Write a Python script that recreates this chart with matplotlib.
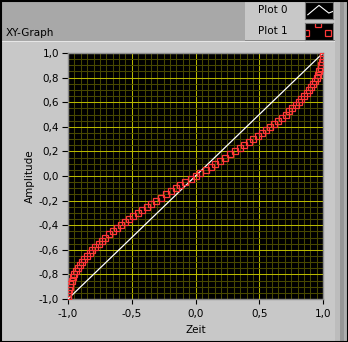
import numpy as np
import matplotlib.pyplot as plt
from matplotlib.patches import Rectangle
from matplotlib.ticker import MultipleLocator

# ---- data ----
zeit_plot0 = [-1.0, 1.0]
amp_plot0 = [-1.0, 1.0]

zeit_plot1 = [-1.000, -0.999, -0.997, -0.993, -0.988, -0.981, -0.972, -0.962, -0.951, -0.938,
              -0.924, -0.908, -0.891, -0.873, -0.853, -0.831, -0.809, -0.785, -0.760, -0.734,
              -0.707, -0.679, -0.649, -0.619, -0.588, -0.556, -0.522, -0.489, -0.454, -0.419,
              -0.383, -0.346, -0.309, -0.271, -0.233, -0.195, -0.156, -0.118, -0.079, -0.039,
              0.000,
              0.039, 0.079, 0.118, 0.156, 0.195, 0.233, 0.271, 0.309, 0.346, 0.383,
              0.419, 0.454, 0.489, 0.522, 0.556, 0.588, 0.619, 0.649, 0.679, 0.707,
              0.734, 0.760, 0.785, 0.809, 0.831, 0.853, 0.873, 0.891, 0.908, 0.924,
              0.938, 0.951, 0.962, 0.972, 0.981, 0.988, 0.993, 0.997, 0.999, 1.000]
amp_plot1 = [-1.000, -0.975, -0.950, -0.925, -0.900, -0.875, -0.850, -0.825, -0.800, -0.775,
             -0.750, -0.725, -0.700, -0.675, -0.650, -0.625, -0.600, -0.575, -0.550, -0.525,
             -0.500, -0.475, -0.450, -0.425, -0.400, -0.375, -0.350, -0.325, -0.300, -0.275,
             -0.250, -0.225, -0.200, -0.175, -0.150, -0.125, -0.100, -0.075, -0.050, -0.025,
             0.000,
             0.025, 0.050, 0.075, 0.100, 0.125, 0.150, 0.175, 0.200, 0.225, 0.250,
             0.275, 0.300, 0.325, 0.350, 0.375, 0.400, 0.425, 0.450, 0.475, 0.500,
             0.525, 0.550, 0.575, 0.600, 0.625, 0.650, 0.675, 0.700, 0.725, 0.750,
             0.775, 0.800, 0.825, 0.850, 0.875, 0.900, 0.925, 0.950, 0.975, 1.000]

x_ticks = [-1.0, -0.5, 0.0, 0.5, 1.0]
x_ticklabels = ['-1,0', '-0,5', '0,0', '0,5', '1,0']
y_ticks = [-1.0, -0.8, -0.6, -0.4, -0.2, 0.0, 0.2, 0.4, 0.6, 0.8, 1.0]
y_ticklabels = ['-1,0', '-0,8', '-0,6', '-0,4', '-0,2', '0,0', '0,2', '0,4', '0,6', '0,8', '1,0']

# legend samples
leg0_x = [0.1, 0.5, 0.85, 1.0]
leg0_y = [0.25, 0.8, 0.35, 0.45]
leg1_x = [0.05, 0.45, 0.82]
leg1_y = [0.4, 0.95, 0.4]

W, H = 348, 342
fs = 7.5
panel = '#C8C8C8'
red = '#FF3838'

fig = plt.figure(figsize=(W/100, H/100), dpi=100)
fig.patch.set_facecolor(panel)

def box(x, y, w, h, z=-5, **kw):
    fig.patches.append(Rectangle((x/W, 1-(y+h)/H), w/W, h/H,
                                 transform=fig.transFigure, zorder=z, **kw))

def px_axes(x, y, w, h):
    return fig.add_axes([x/W, 1-(y+h)/H, w/W, h/H])

# frame decoration
box(0, 0, 245, 41, color='#A8A8A8', lw=0)
box(245, 0, 90, 41, color=panel, lw=0)
box(245, 40, 90, 1, color='#8A8A8A', lw=0)
box(0, 41, 335, 1, color='#E6E6E6', lw=0)
box(335, 0, 5, H, color='#BCBCBC', lw=0)
box(340, 0, 4, H, color='#969696', lw=0)
box(344, 0, 4, H, color='#AEAEAE', lw=0)
box(0.5, 0.5, W-1, H-1, z=10, fill=False, edgecolor='black', lw=1.5)

fig.text(6/W, 1-33/H, 'XY-Graph', fontsize=fs, va='center', ha='left')
fig.text(258/W, 1-10/H, 'Plot 0', fontsize=fs, va='center', ha='left')
fig.text(258/W, 1-31/H, 'Plot 1', fontsize=fs, va='center', ha='left')

# legend swatches
for i, (lx, ly) in enumerate([(leg0_x, leg0_y), (leg1_x, leg1_y)]):
    sw = px_axes(305, 2 + 21*i, 28, 17)
    sw.set_facecolor('black')
    sw.set_xlim(0, 1)
    sw.set_ylim(0, 1)
    sw.set_xticks([])
    sw.set_yticks([])
    for s in sw.spines.values():
        s.set_color('#7A7A7A')
        s.set_linewidth(0.8)
    if i == 0:
        sw.plot(lx, ly, color='white', lw=0.8)
    else:
        sw.plot(lx, ly, ls='none', marker='s', ms=4, mfc='none', mec=red, mew=0.9)

# main graph
ax = px_axes(68, 53, 255, 246)
ax.set_facecolor('black')
ax.set_xlim(-1, 1)
ax.set_ylim(-1, 1)
ax.set_xticks(x_ticks)
ax.set_xticklabels(x_ticklabels)
ax.set_yticks(y_ticks)
ax.set_yticklabels(y_ticklabels)
ax.xaxis.set_minor_locator(MultipleLocator(0.05))
ax.yaxis.set_minor_locator(MultipleLocator(0.05))
ax.grid(which='minor', color='#484800', lw=0.75)
ax.grid(which='major', color='#B8B800', lw=0.75)
ax.set_axisbelow(True)
ax.tick_params(which='minor', length=0)
ax.tick_params(which='major', direction='out', length=4.3, width=0.8, color='black',
               labelsize=fs, pad=2.2)
ax.tick_params(axis='x', length=3.5, pad=4)
for s in ax.spines.values():
    s.set_color('#8C8C8C')
    s.set_linewidth(1)

ax.plot(zeit_plot0, amp_plot0, color='white', lw=0.9, zorder=3)
ax.plot(zeit_plot1, amp_plot1, ls='none', marker='s', ms=4.2, mfc='none',
        mec=red, mew=0.9, zorder=4)

ax.set_xlabel('Zeit', fontsize=fs)
ax.xaxis.label.set_va('center')
ax.xaxis.set_label_coords(0.5, (299-330)/246)
ax.set_ylabel('Amplitude', fontsize=fs)
ax.yaxis.label.set_va('center')
ax.yaxis.set_label_coords((30-68)/255, 0.5)

fig.savefig('out.png', dpi=100, facecolor=fig.get_facecolor())
